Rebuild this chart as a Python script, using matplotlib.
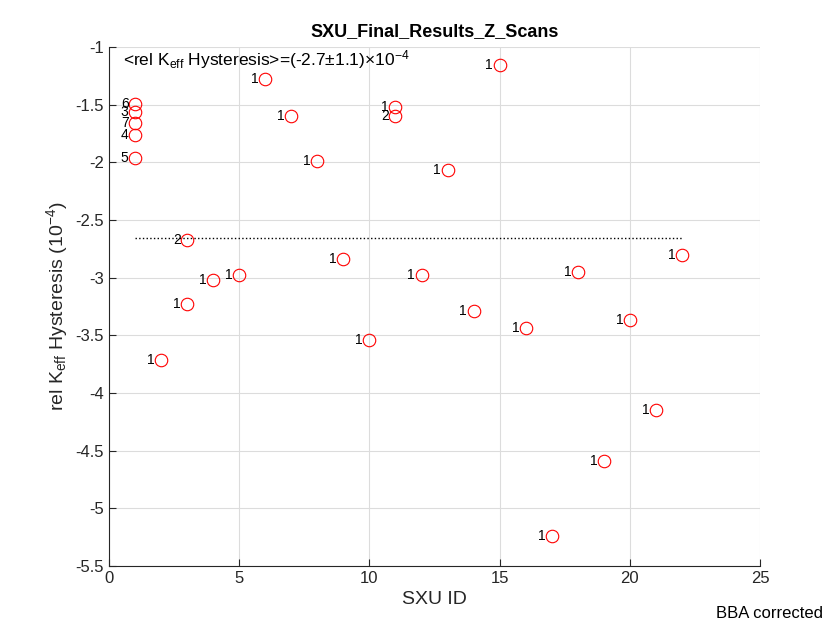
import matplotlib
matplotlib.use("Agg")
import matplotlib.pyplot as plt

plt.rcParams["font.family"] = ["Liberation Sans", "DejaVu Sans"]
plt.rcParams["mathtext.fontset"] = "custom"
plt.rcParams["mathtext.rm"] = "Liberation Sans"
plt.rcParams["mathtext.it"] = "Liberation Sans:italic"

sxu_id = [1, 1, 1, 1, 1, 2, 3, 3, 4, 5, 6, 7, 8, 9, 10, 11, 11, 12, 13, 14,
          15, 16, 17, 18, 19, 20, 21, 22]
hysteresis = [-1.49, -1.56, -1.66, -1.76, -1.96, -3.71, -2.67, -3.23, -3.02,
              -2.98, -1.28, -1.60, -1.99, -2.84, -3.54, -1.52, -1.60, -2.98,
              -2.07, -3.29, -1.16, -3.44, -5.24, -2.95, -4.59, -3.37, -4.15, -2.80]
scan_no = [6, 3, 7, 4, 5, 1, 2, 1, 1, 1, 1, 1, 1, 1, 1, 1, 2, 1, 1, 1,
           1, 1, 1, 1, 1, 1, 1, 1]
mean_val = -2.66

fig = plt.figure(figsize=(8.4, 6.3), dpi=100)
ax = fig.add_axes([0.1298, 0.1016, 0.775, 0.8238])

ax.plot(sxu_id, hysteresis, "o", mfc="none", mec="red", ms=9, mew=0.8)
for x, y, n in zip(sxu_id, hysteresis, scan_no):
    ax.text(x - 0.25, y, str(n), ha="right", va="center", fontsize=10)
ax.plot([min(sxu_id), max(sxu_id)], [mean_val, mean_val], ":", color="black", lw=1)

# mean annotation in the upper left corner
ax.text(0.55, -1.16, "<rel K$_{\\rm eff}$ Hysteresis>=(-2.7±1.1)×10$^{-4}$",
        fontsize=12.5, va="baseline")

ax.set_xlim(0, 25)
ax.set_ylim(-5.5, -1)
ax.set_xticks(range(0, 26, 5))
ax.set_yticks([-5.5, -5, -4.5, -4, -3.5, -3, -2.5, -2, -1.5, -1])
ax.set_yticklabels(["-5.5", "-5", "-4.5", "-4", "-3.5", "-3", "-2.5", "-2", "-1.5", "-1"])
ax.tick_params(direction="in", labelsize=12, colors="#262626", length=5)
ax.grid(True, color="#dcdcdc", lw=0.8)
ax.set_axisbelow(True)
for s in ["top", "right"]:
    ax.spines[s].set_visible(False)
for s in ["left", "bottom"]:
    ax.spines[s].set_color("#262626")

ax.set_title("SXU_Final_Results_Z_Scans", fontsize=13, fontweight="bold", pad=8)
ax.set_xlabel("SXU ID", fontsize=14, color="#262626")
ax.set_ylabel("rel K$_{\\rm eff}$ Hysteresis (10$^{-4}$)", fontsize=14, color="#262626")
fig.text(0.98, 0.015, "BBA corrected", ha="right", va="bottom", fontsize=12)

fig.savefig("out.png", dpi=100)
